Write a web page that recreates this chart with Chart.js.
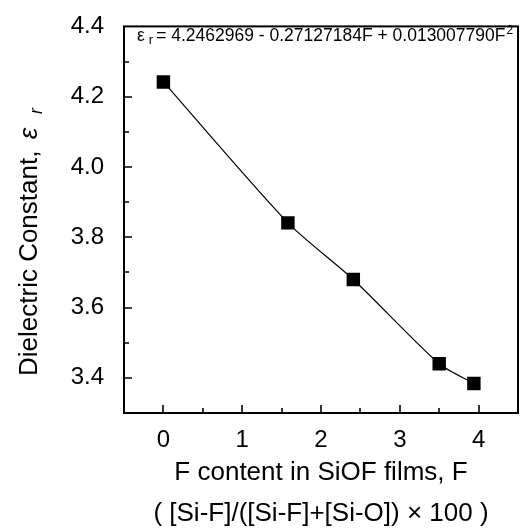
<!DOCTYPE html>
<html>
<head>
<meta charset="utf-8">
<script src="https://cdn.jsdelivr.net/npm/chart.js@4/dist/chart.umd.min.js"></script>
<style>
  html, body { margin: 0; padding: 0; background: #fff; }
  #wrap { width: 529px; height: 530px; }
</style>
</head>
<body>
<div id="wrap"><canvas id="dkChart"></canvas></div>
<script>
// measured points: F content vs dielectric constant
const fContent = [0.0, 1.58, 2.41, 3.50, 3.94];
const dielectric = [4.242, 3.841, 3.680, 3.440, 3.384];
const xTicks = [0, 1, 2, 3, 4];
const yTicks = [3.4, 3.6, 3.8, 4.0, 4.2, 4.4];
const fitLabel = '4.2462969 - 0.27127184F + 0.013007790F';

const FONT = 'Liberation Sans, Arial, sans-serif';

// =========================
// box + inward ticks + equation + y title
// =========================
const framePlugin = {
    id: 'frame',
    afterDraw(chart) {
        const ctx = chart.ctx;
        const a = chart.chartArea;
        const xs = chart.scales.x, ys = chart.scales.y;
        ctx.save();
        ctx.strokeStyle = '#000';
        ctx.lineWidth = 2;
        ctx.strokeRect(a.left, a.top, a.right - a.left, a.bottom - a.top);

        ctx.lineWidth = 1.6;
        ctx.beginPath();
        for (let v = 3.4; v <= 4.31; v += 0.1) {
            const y = Math.round(ys.getPixelForValue(v));
            const major = yTicks.some(t => Math.abs(t - v) < 1e-6);
            ctx.moveTo(a.left, y);
            ctx.lineTo(a.left + (major ? 8 : 5), y);
        }
        for (let v = 0; v <= 4.01; v += 0.5) {
            const x = Math.round(xs.getPixelForValue(v));
            const major = xTicks.some(t => Math.abs(t - v) < 1e-6);
            ctx.moveTo(x, a.bottom);
            ctx.lineTo(x, a.bottom - (major ? 8 : 5));
        }
        ctx.stroke();

        // fit equation
        ctx.fillStyle = '#000';
        ctx.textBaseline = 'alphabetic';
        ctx.font = '17.5px ' + FONT;
        let x = a.left + 13;
        const base = 41;
        ctx.fillText('ε', x, base);
        x += ctx.measureText('ε').width + 4;
        ctx.font = '13px ' + FONT;
        ctx.fillText('r', x, base + 3);
        x += ctx.measureText('r').width + 3;
        ctx.font = '17.5px ' + FONT;
        const body = '= ' + fitLabel;
        ctx.fillText(body, x, base);
        x += ctx.measureText(body).width + 1;
        ctx.font = '12px ' + FONT;
        ctx.fillText('2', x, base - 7);

        // y axis title with subscript
        ctx.save();
        ctx.translate(37, 376);
        ctx.rotate(-Math.PI / 2);
        ctx.font = '26px ' + FONT;
        const t1 = 'Dielectric Constant, ';
        ctx.fillText(t1, 0, 0);
        let tx = ctx.measureText(t1).width + 4;
        ctx.font = 'italic 26px ' + FONT;
        ctx.fillText('ε', tx, 0);
        tx += ctx.measureText('ε').width + 14;
        ctx.font = 'italic 18px ' + FONT;
        ctx.fillText('r', tx, 5);
        ctx.restore();

        ctx.restore();
    }
};

const ctx = document.getElementById('dkChart').getContext('2d');
const dkChart = new Chart(ctx, {
    type: 'scatter',
    data: {
        datasets: [{
            label: 'Dielectric constant',
            data: fContent.map((f, i) => ({ x: f, y: dielectric[i] })),
            showLine: true,
            tension: 0.25,
            borderColor: '#000',
            borderWidth: 1.2,
            backgroundColor: '#000',
            pointStyle: 'rect',
            pointRadius: 9.5,
            pointHoverRadius: 9.5,
            pointBorderWidth: 0
        }]
    },
    options: {
        responsive: true,
        maintainAspectRatio: false,
        animation: false,
        events: [],
        layout: { padding: { top: 23, right: 11, left: 0, bottom: 0 } },
        plugins: { legend: { display: false }, tooltip: { enabled: false } },
        scales: {
            x: {
                type: 'linear',
                min: -0.5, max: 4.5,
                afterBuildTicks: s => { s.ticks = xTicks.map(v => ({ value: v })); },
                afterFit: s => { s.height = 117; },
                grid: { display: false },
                border: { display: false },
                ticks: { color: '#000', font: { size: 24, family: FONT, lineHeight: 1 }, padding: 7 },
                title: {
                    display: true,
                    text: ['F content in SiOF films, F', '( [Si-F]/([Si-F]+[Si-O]) × 100 )'],
                    color: '#000',
                    font: { size: 26, family: FONT, lineHeight: 1.6 },
                    padding: { top: 7, bottom: -5 }
                }
            },
            y: {
                type: 'linear',
                min: 3.3, max: 4.4,
                afterBuildTicks: s => { s.ticks = yTicks.map(v => ({ value: v })); },
                afterFit: s => { s.width = 124; },
                grid: { display: false },
                border: { display: false },
                ticks: { color: '#000', font: { size: 24, family: FONT }, padding: 12,
                         callback: v => v.toFixed(1) }
            }
        }
    },
    plugins: [framePlugin]
});
</script>
</body>
</html>
